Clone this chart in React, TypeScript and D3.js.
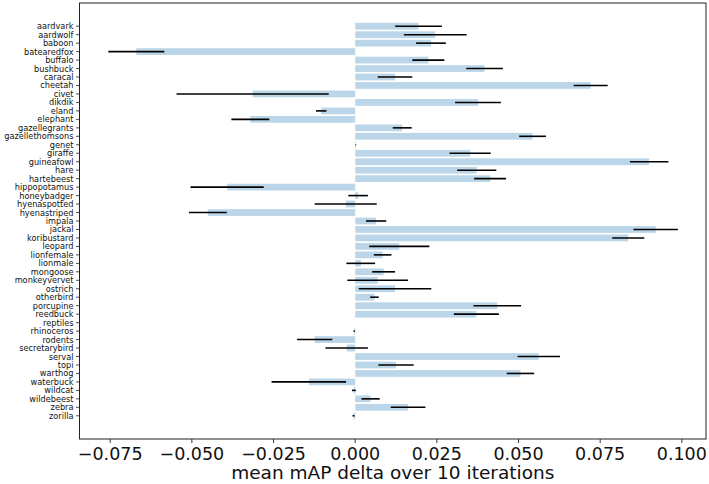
import React from "react";
import * as d3 from "d3";

// Species, in plotting order (top to bottom)
const categories = [
  "aardvark", "aardwolf", "baboon", "batearedfox", "buffalo", "bushbuck", "caracal", "cheetah",
  "civet", "dikdik", "eland", "elephant", "gazellegrants", "gazellethomsons", "genet", "giraffe",
  "guineafowl", "hare", "hartebeest", "hippopotamus", "honeybadger", "hyenaspotted", "hyenastriped",
  "impala", "jackal", "koribustard", "leopard", "lionfemale", "lionmale", "mongoose", "monkeyvervet",
  "ostrich", "otherbird", "porcupine", "reedbuck", "reptiles", "rhinoceros", "rodents",
  "secretarybird", "serval", "topi", "warthog", "waterbuck", "wildcat", "wildebeest", "zebra", "zorilla",
];

// Mean mAP delta per species
const meanDelta = [
  0.0194, 0.0245, 0.0232, -0.067, 0.0224, 0.0396, 0.0122, 0.0721,
  -0.0314, 0.0376, -0.0104, -0.0321, 0.0144, 0.0543, 0.0002, 0.0352,
  0.09, 0.0372, 0.0413, -0.0392, 0.0009, -0.0029, -0.0451,
  0.0064, 0.092, 0.0836, 0.0135, 0.0084, 0.0017, 0.0087, 0.0069,
  0.0122, 0.0059, 0.0435, 0.0371, 0.0, -0.0003, -0.0124,
  -0.0026, 0.0562, 0.0125, 0.0506, -0.0142, -0.0004, 0.0047, 0.0162, -0.0005,
];

// Half-width of the error bar per species
const errDelta = [
  0.00715, 0.0096, 0.00455, 0.00857, 0.0049, 0.0056, 0.0053, 0.0052,
  0.0233, 0.007, 0.0016, 0.0058, 0.0029, 0.0041, 0.0001, 0.0063,
  0.0059, 0.006, 0.0049, 0.0112, 0.003, 0.0095, 0.0058,
  0.0031, 0.0068, 0.0049, 0.0092, 0.0027, 0.0044, 0.0035, 0.0093,
  0.0111, 0.0013, 0.0073, 0.0069, 0.0, 0.0002, 0.0054,
  0.0065, 0.0065, 0.0054, 0.0042, 0.0114, 0.0006, 0.0028, 0.0053, 0.0003,
];

const xTicks = [-0.075, -0.05, -0.025, 0, 0.025, 0.05, 0.075, 0.1];
const xLabel = "mean mAP delta over 10 iterations";

const W = 709;
const H = 484;
const plot = { left: 79.5, right: 706, top: 3, bottom: 439 };
const FONT = "'DejaVu Sans', sans-serif";

export default function App() {
  const x = d3.scaleLinear().domain([-0.0844, 0.1074]).range([plot.left, plot.right]);
  const n = categories.length;
  const pad = 0.4 + 0.05 * (n - 1 + 0.8);
  const y = d3.scaleLinear().domain([-pad, n - 1 + pad]).range([plot.top, plot.bottom]);
  const barH = y(0.8) - y(0);
  const fmt = (v: number) => d3.format(".3f")(v).replace("-", "\u2212");

  return (
    <svg
      width={W}
      height={H}
      style={{ position: "absolute", left: 0, top: 0, background: "#fff" }}
      fontFamily={FONT}
    >
      {/* bars */}
      {categories.map((c, i) => {
        const v = meanDelta[i];
        const x0 = x(Math.min(0, v));
        const x1 = x(Math.max(0, v));
        return (
          <rect
            key={"b" + c}
            x={x0}
            y={y(i) - barH / 2}
            width={Math.max(0, x1 - x0)}
            height={barH}
            fill="#1f77b4"
            fillOpacity={0.3}
          />
        );
      })}
      {/* error bars */}
      {categories.map((c, i) => (
        <line
          key={"e" + c}
          x1={x(meanDelta[i] - errDelta[i])}
          x2={x(meanDelta[i] + errDelta[i])}
          y1={y(i)}
          y2={y(i)}
          stroke="#000"
          strokeWidth={1.6}
        />
      ))}
      {/* frame */}
      <rect
        x={plot.left}
        y={plot.top}
        width={plot.right - plot.left}
        height={plot.bottom - plot.top}
        fill="none"
        stroke="#222"
        strokeWidth={1}
      />
      {/* y axis ticks and labels */}
      {categories.map((c, i) => (
        <g key={"t" + c}>
          <line x1={plot.left - 3.5} x2={plot.left} y1={y(i)} y2={y(i)} stroke="#222" strokeWidth={0.8} />
          <text
            x={plot.left - 6}
            y={y(i)}
            fontSize={8.2}
            textAnchor="end"
            dominantBaseline="central"
            fill="#111"
          >
            {c}
          </text>
        </g>
      ))}
      {/* x axis ticks and labels */}
      {xTicks.map((t) => (
        <g key={"x" + t}>
          <line x1={x(t)} x2={x(t)} y1={plot.bottom} y2={plot.bottom + 4} stroke="#222" strokeWidth={0.9} />
          <text x={x(t)} y={460} fontSize={17.5} textAnchor="middle" fill="#111">
            {fmt(t)}
          </text>
        </g>
      ))}
      <text x={(plot.left + plot.right) / 2} y={479} fontSize={18.5} textAnchor="middle" fill="#111">
        {xLabel}
      </text>
    </svg>
  );
}
